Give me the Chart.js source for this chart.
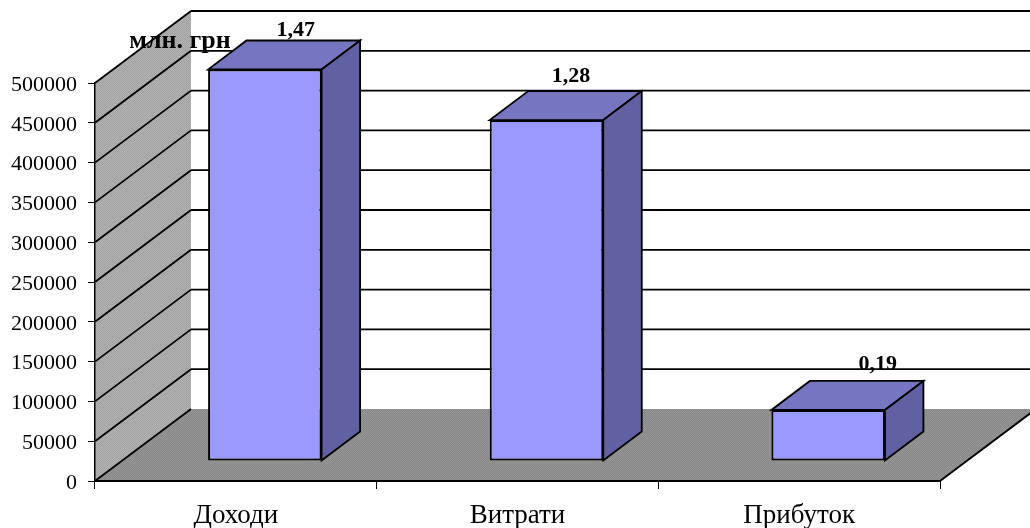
<!DOCTYPE html>
<html>
<head>
<meta charset="utf-8">
<title>Доходи, витрати, прибуток</title>
<style>
  html, body { margin:0; padding:0; background:#fff; overflow:hidden; }
  #chart { display:block; }
</style>
<script src="https://cdn.jsdelivr.net/npm/chart.js@4/dist/chart.umd.min.js"></script>
</head>
<body>
<canvas id="chart" width="1030" height="528"></canvas>
<script>
const categories = ['Доходи', 'Витрати', 'Прибуток'];
const values = [1.47, 1.28, 0.19];
const valueLabels = ['1,47', '1,28', '0,19'];
const axisTicks = [0, 50000, 100000, 150000, 200000, 250000, 300000, 350000, 400000, 450000, 500000];
const unitLabel = 'млн. грн';

// Bars run on their own hidden scale, the left ticks keep the printed 0..500000 range
const valueScaleMax = 1.4963;

const WALL = { dx:96, dy:72 };        // depth of the side wall and floor
const BAR_SHIFT = { dx:29, dy:20.5 }; // bars stand in the middle of the floor
const BAR_DEPTH = { dx:38.5, dy:29 };
const LABEL_NUDGE = [[31, 10], [24.5, 15], [49.5, 17]];

const SERIF = '"Liberation Serif", "Times New Roman", serif';

// fine two-tone dither used on the grey wall and floor
function dither(ctx, a, b) {
  const c = document.createElement('canvas');
  c.width = c.height = 2;
  const p = c.getContext('2d');
  p.fillStyle = a; p.fillRect(0, 0, 2, 2);
  p.fillStyle = b; p.fillRect(0, 0, 1, 1); p.fillRect(1, 1, 1, 1);
  return ctx.createPattern(c, 'repeat');
}

function poly(ctx, pts, fill, stroke, lw) {
  ctx.beginPath();
  pts.forEach((p, i) => i ? ctx.lineTo(p[0], p[1]) : ctx.moveTo(p[0], p[1]));
  ctx.closePath();
  if (fill) { ctx.fillStyle = fill; ctx.fill(); }
  if (stroke) { ctx.strokeStyle = stroke; ctx.lineWidth = lw; ctx.stroke(); }
}

function line(ctx, x1, y1, x2, y2, lw) {
  ctx.beginPath();
  ctx.moveTo(x1, y1);
  ctx.lineTo(x2, y2);
  ctx.strokeStyle = '#000';
  ctx.lineWidth = lw;
  ctx.stroke();
}

// side wall, floor and the grid that folds from the wall onto the back plane
const roomPlugin = {
  id:'room',
  afterLayout(chart) {
    // digits sit a little high with a middle baseline
    chart.scales.y.getLabelItems().forEach(item => { item.options.translation[1] += 2; });
  },
  beforeDraw(chart) {
    const { ctx, chartArea:{ left, right, top, bottom }, scales:{ y } } = chart;
    ctx.save();
    poly(ctx, [[left, top], [left + WALL.dx, top - WALL.dy], [left + WALL.dx, bottom - WALL.dy], [left, bottom]],
      dither(ctx, '#b4b4b4', '#a0a0a0'));
    poly(ctx, [[left, bottom], [left + WALL.dx, bottom - WALL.dy], [right + WALL.dx, bottom - WALL.dy], [right, bottom]],
      dither(ctx, '#888888', '#969696'));
    axisTicks.forEach(v => {
      const py = y.getPixelForValue(v);
      line(ctx, left, py, left + WALL.dx, py - WALL.dy, 1.8);
      if (v > 0) line(ctx, left + WALL.dx, py - WALL.dy, right + WALL.dx, py - WALL.dy, 1.8);
    });
    line(ctx, right, bottom, right + WALL.dx, bottom - WALL.dy, 1.8);
    ctx.restore();
  }
};

// top and side faces of each bar, then the front face drawn by the bar controller
const boxPlugin = {
  id:'box',
  beforeDatasetDraw(chart, args) {
    const { ctx } = chart;
    ctx.save();
    ctx.translate(BAR_SHIFT.dx, -BAR_SHIFT.dy);
    args.meta.data.forEach(bar => {
      const { x, y, base, width } = bar.getProps(['x', 'y', 'base', 'width'], true);
      const l = x - width / 2, r = x + width / 2;
      const dx = BAR_DEPTH.dx, dy = BAR_DEPTH.dy;
      poly(ctx, [[l, y], [r, y], [r + dx, y - dy], [l + dx, y - dy]], '#7575c0', '#000', 1.8);
      poly(ctx, [[r, y], [r + dx, y - dy], [r + dx, base - dy], [r, base]], '#6060a2', '#000', 1.8);
    });
  },
  afterDatasetDraw(chart) {
    chart.ctx.restore();
  },
  afterDatasetsDraw(chart) {
    const { ctx } = chart;
    const bars = chart.getDatasetMeta(0).data;
    ctx.save();
    ctx.fillStyle = '#000';
    ctx.font = 'bold 22px ' + SERIF;
    ctx.textAlign = 'center';
    ctx.textBaseline = 'middle';
    bars.forEach((bar, i) => {
      const { x, y } = bar.getProps(['x', 'y'], true);
      ctx.fillText(valueLabels[i],
        x + BAR_SHIFT.dx + LABEL_NUDGE[i][0],
        y - BAR_SHIFT.dy - BAR_DEPTH.dy - LABEL_NUDGE[i][1]);
    });
    ctx.font = 'bold 26px ' + SERIF;
    ctx.fillText(unitLabel, 180, 41);
    ctx.restore();
  }
};

new Chart(document.getElementById('chart'), {
  type:'bar',
  data:{
    labels:categories,
    datasets:[{
      data:values,
      yAxisID:'yValue',
      backgroundColor:'#9999ff',
      borderColor:'#000',
      borderWidth:2,
      borderSkipped:false,
      barPercentage:1,
      categoryPercentage:0.403,
      clip:false
    }]
  },
  options:{
    responsive:false,
    animation:false,
    layout:{ padding:{ top:83, right:90, bottom:0, left:0 } },
    plugins:{ legend:{ display:false }, tooltip:{ enabled:false } },
    scales:{
      x:{
        offset:true,
        afterFit(s) { s.height = 47; },
        grid:{ drawOnChartArea:false, color:'#000', tickLength:8, offset:true },
        border:{ color:'#000', width:2 },
        ticks:{ color:'#000', font:{ family:SERIF, size:27 }, padding:11, maxRotation:0 }
      },
      y:{
        min:0,
        max:500000,
        afterFit(s) { s.width = 95; },
        afterBuildTicks(s) { s.ticks = axisTicks.map(v => ({ value:v })); },
        grid:{ drawOnChartArea:false, color:'#000', tickLength:7 },
        border:{ color:'#000', width:1.5 },
        ticks:{ color:'#000', font:{ family:SERIF, size:22 }, padding:11, callback:v => String(v) }
      },
      yValue:{ display:false, min:0, max:valueScaleMax }
    }
  },
  plugins:[roomPlugin, boxPlugin]
});
</script>
</body>
</html>
